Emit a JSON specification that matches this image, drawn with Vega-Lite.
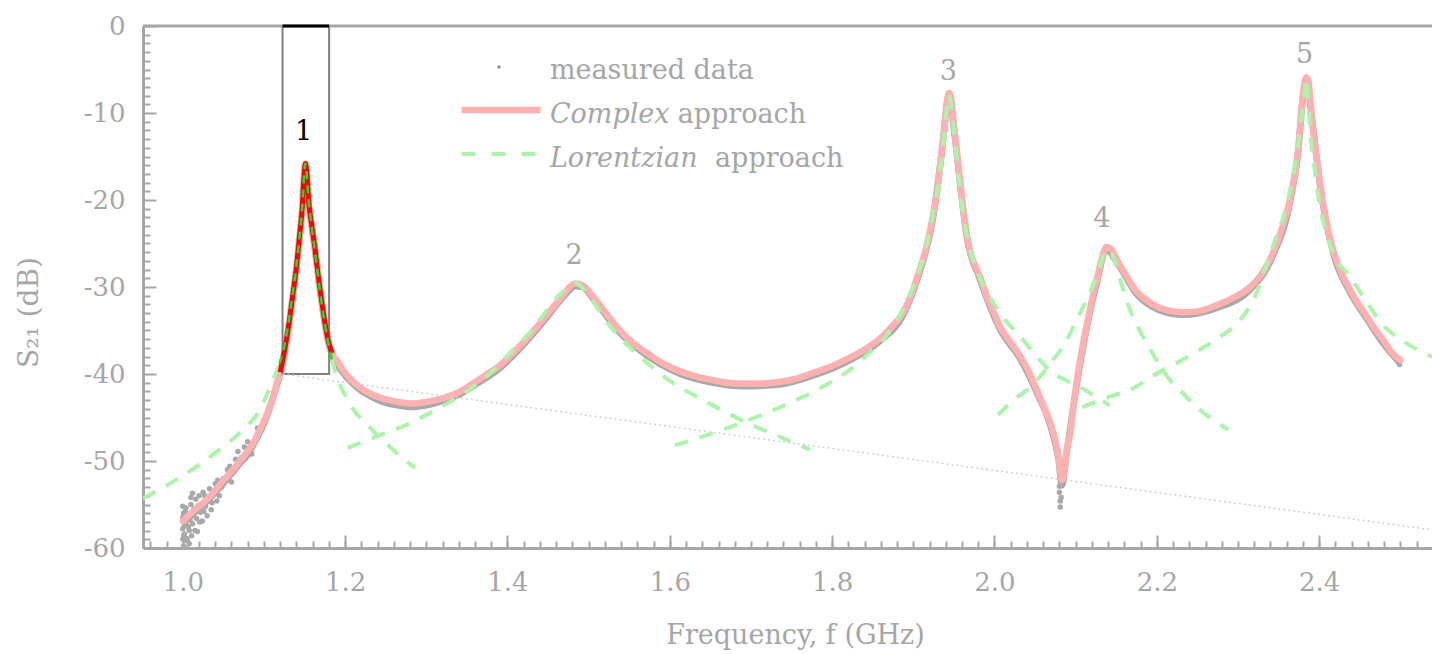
{
  "$schema": "https://vega.github.io/schema/vega-lite/v6.json",
  "width": 1289,
  "height": 522,
  "autosize": {"type": "none"},
  "padding": {"left": 143, "top": 26, "right": 0, "bottom": 106},
  "background": "white",
  "config": {"view": {"stroke": null}, "font": "DejaVu Serif"},
  "datasets": {
    "one": [{}],
    "complex": [
      {"f": 1.000, "s": -56.9}, {"f": 1.015, "s": -55.6}, {"f": 1.033, "s": -54.1}, {"f": 1.045, "s": -52.8},
      {"f": 1.058, "s": -51.4}, {"f": 1.068, "s": -50.3}, {"f": 1.078, "s": -49.1}, {"f": 1.087, "s": -47.9},
      {"f": 1.095, "s": -46.4}, {"f": 1.101, "s": -45.2}, {"f": 1.107, "s": -43.8}, {"f": 1.112, "s": -42.4},
      {"f": 1.116, "s": -41.0}, {"f": 1.120, "s": -39.8}, {"f": 1.126, "s": -37.0}, {"f": 1.132, "s": -33.4},
      {"f": 1.136, "s": -30.6}, {"f": 1.140, "s": -27.7}, {"f": 1.144, "s": -24.0}, {"f": 1.147, "s": -21.1},
      {"f": 1.149, "s": -17.8}, {"f": 1.151, "s": -15.8}, {"f": 1.153, "s": -17.0}, {"f": 1.155, "s": -20.0},
      {"f": 1.159, "s": -23.0}, {"f": 1.163, "s": -25.7}, {"f": 1.167, "s": -28.8}, {"f": 1.171, "s": -31.5},
      {"f": 1.175, "s": -34.0}, {"f": 1.179, "s": -36.1}, {"f": 1.184, "s": -37.6}, {"f": 1.191, "s": -38.6},
      {"f": 1.197, "s": -39.5}, {"f": 1.207, "s": -40.6}, {"f": 1.218, "s": -41.5}, {"f": 1.232, "s": -42.3},
      {"f": 1.246, "s": -42.8}, {"f": 1.265, "s": -43.2}, {"f": 1.283, "s": -43.4}, {"f": 1.300, "s": -43.2},
      {"f": 1.320, "s": -42.8}, {"f": 1.340, "s": -42.1}, {"f": 1.361, "s": -40.9}, {"f": 1.375, "s": -40.0},
      {"f": 1.387, "s": -39.3}, {"f": 1.400, "s": -38.2}, {"f": 1.414, "s": -36.9}, {"f": 1.428, "s": -35.5},
      {"f": 1.445, "s": -33.6}, {"f": 1.461, "s": -31.8}, {"f": 1.472, "s": -30.5}, {"f": 1.483, "s": -29.6},
      {"f": 1.492, "s": -29.8}, {"f": 1.501, "s": -30.6}, {"f": 1.510, "s": -31.6}, {"f": 1.522, "s": -33.1},
      {"f": 1.535, "s": -34.6}, {"f": 1.553, "s": -36.3}, {"f": 1.572, "s": -37.6}, {"f": 1.592, "s": -38.8},
      {"f": 1.613, "s": -39.7}, {"f": 1.633, "s": -40.3}, {"f": 1.653, "s": -40.7}, {"f": 1.672, "s": -41.0},
      {"f": 1.690, "s": -41.1}, {"f": 1.713, "s": -41.1}, {"f": 1.736, "s": -40.9}, {"f": 1.757, "s": -40.5},
      {"f": 1.776, "s": -39.9}, {"f": 1.797, "s": -39.2}, {"f": 1.818, "s": -38.3}, {"f": 1.838, "s": -37.3},
      {"f": 1.859, "s": -35.9}, {"f": 1.875, "s": -34.4}, {"f": 1.887, "s": -33.0}, {"f": 1.897, "s": -31.0},
      {"f": 1.905, "s": -28.8}, {"f": 1.915, "s": -25.8}, {"f": 1.924, "s": -21.9}, {"f": 1.930, "s": -18.5},
      {"f": 1.935, "s": -14.3}, {"f": 1.939, "s": -11.0}, {"f": 1.942, "s": -8.5}, {"f": 1.944, "s": -7.7},
      {"f": 1.946, "s": -8.0}, {"f": 1.948, "s": -9.5}, {"f": 1.951, "s": -12.3}, {"f": 1.955, "s": -15.5},
      {"f": 1.958, "s": -18.1}, {"f": 1.962, "s": -21.5}, {"f": 1.966, "s": -24.0}, {"f": 1.970, "s": -25.9},
      {"f": 1.976, "s": -27.5}, {"f": 1.982, "s": -28.8}, {"f": 1.990, "s": -30.9}, {"f": 1.999, "s": -32.9},
      {"f": 2.007, "s": -34.6}, {"f": 2.020, "s": -36.4}, {"f": 2.032, "s": -38.0}, {"f": 2.042, "s": -39.7},
      {"f": 2.052, "s": -41.8}, {"f": 2.061, "s": -43.8}, {"f": 2.069, "s": -45.7}, {"f": 2.075, "s": -47.6},
      {"f": 2.079, "s": -49.5}, {"f": 2.083, "s": -52.2}, {"f": 2.087, "s": -50.3}, {"f": 2.089, "s": -48.7},
      {"f": 2.093, "s": -47.0}, {"f": 2.097, "s": -44.0}, {"f": 2.101, "s": -41.1}, {"f": 2.107, "s": -37.6},
      {"f": 2.114, "s": -34.2}, {"f": 2.120, "s": -31.5}, {"f": 2.126, "s": -29.2}, {"f": 2.132, "s": -26.8},
      {"f": 2.138, "s": -25.4}, {"f": 2.144, "s": -25.7}, {"f": 2.151, "s": -26.9}, {"f": 2.163, "s": -28.8},
      {"f": 2.175, "s": -30.5}, {"f": 2.187, "s": -31.5}, {"f": 2.204, "s": -32.4}, {"f": 2.220, "s": -32.8},
      {"f": 2.232, "s": -32.9}, {"f": 2.250, "s": -32.8}, {"f": 2.274, "s": -32.1}, {"f": 2.295, "s": -31.2},
      {"f": 2.315, "s": -30.0}, {"f": 2.330, "s": -28.4}, {"f": 2.343, "s": -26.1}, {"f": 2.355, "s": -23.0},
      {"f": 2.364, "s": -20.0}, {"f": 2.370, "s": -17.0}, {"f": 2.374, "s": -14.3}, {"f": 2.377, "s": -11.0},
      {"f": 2.380, "s": -7.9}, {"f": 2.384, "s": -5.9}, {"f": 2.387, "s": -6.5}, {"f": 2.390, "s": -9.5},
      {"f": 2.393, "s": -12.3}, {"f": 2.397, "s": -15.2}, {"f": 2.401, "s": -18.0}, {"f": 2.408, "s": -22.0},
      {"f": 2.417, "s": -25.7}, {"f": 2.427, "s": -28.3}, {"f": 2.438, "s": -30.3}, {"f": 2.450, "s": -32.2},
      {"f": 2.459, "s": -33.4}, {"f": 2.467, "s": -34.6}, {"f": 2.479, "s": -36.1}, {"f": 2.490, "s": -37.6},
      {"f": 2.500, "s": -38.4}
    ],
    "measured": [
      {"f": 1.005, "s": -56.8}, {"f": 1.015, "s": -55.9}, {"f": 1.030, "s": -54.6}, {"f": 1.045, "s": -53.1},
      {"f": 1.058, "s": -51.7}, {"f": 1.070, "s": -50.3}, {"f": 1.080, "s": -49.3}, {"f": 1.090, "s": -47.6},
      {"f": 1.098, "s": -46.1}, {"f": 1.105, "s": -44.5}, {"f": 1.111, "s": -42.8}, {"f": 1.116, "s": -41.3},
      {"f": 1.120, "s": -40.0}, {"f": 1.126, "s": -37.2}, {"f": 1.132, "s": -33.6}, {"f": 1.140, "s": -27.9},
      {"f": 1.147, "s": -21.3}, {"f": 1.151, "s": -16.0}, {"f": 1.155, "s": -20.2}, {"f": 1.163, "s": -25.9},
      {"f": 1.171, "s": -31.7}, {"f": 1.179, "s": -36.3}, {"f": 1.186, "s": -38.2}, {"f": 1.197, "s": -39.8},
      {"f": 1.207, "s": -40.9}, {"f": 1.218, "s": -41.8}, {"f": 1.232, "s": -42.6}, {"f": 1.246, "s": -43.2},
      {"f": 1.265, "s": -43.6}, {"f": 1.283, "s": -43.8}, {"f": 1.300, "s": -43.6}, {"f": 1.320, "s": -43.1},
      {"f": 1.340, "s": -42.4}, {"f": 1.361, "s": -41.2}, {"f": 1.387, "s": -39.6}, {"f": 1.414, "s": -37.2},
      {"f": 1.445, "s": -33.9}, {"f": 1.472, "s": -30.8}, {"f": 1.483, "s": -29.9}, {"f": 1.492, "s": -30.0},
      {"f": 1.510, "s": -31.9}, {"f": 1.535, "s": -34.9}, {"f": 1.572, "s": -37.9}, {"f": 1.613, "s": -40.0},
      {"f": 1.653, "s": -41.0}, {"f": 1.690, "s": -41.4}, {"f": 1.736, "s": -41.2}, {"f": 1.776, "s": -40.2},
      {"f": 1.818, "s": -38.6}, {"f": 1.859, "s": -36.2}, {"f": 1.887, "s": -33.3}, {"f": 1.905, "s": -29.1},
      {"f": 1.924, "s": -22.2}, {"f": 1.935, "s": -14.6}, {"f": 1.944, "s": -7.9}, {"f": 1.951, "s": -12.6},
      {"f": 1.958, "s": -18.4}, {"f": 1.966, "s": -24.3}, {"f": 1.982, "s": -29.1}, {"f": 2.007, "s": -34.9},
      {"f": 2.032, "s": -38.3}, {"f": 2.052, "s": -42.1}, {"f": 2.069, "s": -46.0}, {"f": 2.079, "s": -49.9},
      {"f": 2.083, "s": -52.8}, {"f": 2.089, "s": -49.0}, {"f": 2.101, "s": -41.4}, {"f": 2.114, "s": -34.5},
      {"f": 2.126, "s": -29.5}, {"f": 2.138, "s": -25.7}, {"f": 2.151, "s": -27.2}, {"f": 2.175, "s": -30.8},
      {"f": 2.204, "s": -32.7}, {"f": 2.232, "s": -33.2}, {"f": 2.274, "s": -32.4}, {"f": 2.315, "s": -30.3},
      {"f": 2.343, "s": -26.4}, {"f": 2.364, "s": -20.3}, {"f": 2.374, "s": -14.6}, {"f": 2.380, "s": -8.2},
      {"f": 2.384, "s": -6.1}, {"f": 2.390, "s": -9.8}, {"f": 2.401, "s": -18.3}, {"f": 2.417, "s": -26.0},
      {"f": 2.438, "s": -30.6}, {"f": 2.459, "s": -33.7}, {"f": 2.479, "s": -36.5}, {"f": 2.500, "s": -38.8}
    ],
    "scatter": [
      {"f": 1.000, "s": -55.2}, {"f": 1.000, "s": -56.5}, {"f": 1.000, "s": -57.8}, {"f": 1.000, "s": -59.0},
      {"f": 1.001, "s": -59.8}, {"f": 1.002, "s": -58.4}, {"f": 1.003, "s": -57.0}, {"f": 1.003, "s": -55.8},
      {"f": 1.004, "s": -60.0}, {"f": 1.005, "s": -58.9}, {"f": 1.006, "s": -56.2}, {"f": 1.007, "s": -57.6},
      {"f": 1.008, "s": -59.5}, {"f": 1.010, "s": -55.0}, {"f": 1.012, "s": -57.2}, {"f": 1.012, "s": -53.7},
      {"f": 1.015, "s": -58.0}, {"f": 1.017, "s": -56.6}, {"f": 1.018, "s": -58.1}, {"f": 1.020, "s": -54.0},
      {"f": 1.022, "s": -55.9}, {"f": 1.025, "s": -53.6}, {"f": 1.028, "s": -55.2}, {"f": 1.030, "s": -56.3},
      {"f": 1.033, "s": -53.2}, {"f": 1.036, "s": -54.8}, {"f": 1.040, "s": -52.6}, {"f": 1.045, "s": -54.0},
      {"f": 1.050, "s": -52.0}, {"f": 1.055, "s": -51.0}, {"f": 1.060, "s": -52.4}, {"f": 1.065, "s": -49.8},
      {"f": 1.072, "s": -49.6}, {"f": 1.080, "s": -47.8}, {"f": 1.085, "s": -49.2}, {"f": 1.092, "s": -46.2},
      {"f": 1.001, "s": -56.0}, {"f": 1.002, "s": -57.3}, {"f": 1.004, "s": -55.4}, {"f": 1.006, "s": -59.2},
      {"f": 1.009, "s": -56.8}, {"f": 1.011, "s": -58.6}, {"f": 1.014, "s": -55.5}, {"f": 1.019, "s": -55.1},
      {"f": 1.024, "s": -56.9}, {"f": 1.027, "s": -54.0}, {"f": 1.038, "s": -53.5}, {"f": 1.043, "s": -52.2},
      {"f": 1.048, "s": -53.0}, {"f": 1.058, "s": -50.6}, {"f": 1.068, "s": -48.9}, {"f": 1.076, "s": -48.4},
      {"f": 1.001, "s": -58.6}, {"f": 1.003, "s": -59.1}, {"f": 1.005, "s": -57.4}, {"f": 1.008, "s": -58.0},
      {"f": 1.010, "s": -54.2}, {"f": 1.013, "s": -56.1}, {"f": 1.016, "s": -54.4}, {"f": 1.021, "s": -57.0},
      {"f": 1.026, "s": -55.8}, {"f": 1.031, "s": -54.1}, {"f": 1.035, "s": -55.6}, {"f": 1.042, "s": -54.6},
      {"f": 2.080, "s": -53.6}, {"f": 2.081, "s": -54.6}, {"f": 2.081, "s": -55.3}, {"f": 2.082, "s": -54.2},
      {"f": 2.080, "s": -52.9}, {"f": 2.499, "s": -38.9}
    ],
    "lorentz": [
      {"peak": 1, "f": 0.951, "s": -54.3}, {"peak": 1, "f": 0.984, "s": -52.6}, {"peak": 1, "f": 1.016, "s": -50.7},
      {"peak": 1, "f": 1.045, "s": -48.7}, {"peak": 1, "f": 1.074, "s": -46.4}, {"peak": 1, "f": 1.095, "s": -44.1},
      {"peak": 1, "f": 1.111, "s": -40.7}, {"peak": 1, "f": 1.119, "s": -38.8}, {"peak": 1, "f": 1.126, "s": -36.4},
      {"peak": 1, "f": 1.132, "s": -33.0}, {"peak": 1, "f": 1.140, "s": -27.5}, {"peak": 1, "f": 1.147, "s": -21.0},
      {"peak": 1, "f": 1.151, "s": -15.8}, {"peak": 1, "f": 1.155, "s": -20.0}, {"peak": 1, "f": 1.163, "s": -26.0},
      {"peak": 1, "f": 1.171, "s": -31.8}, {"peak": 1, "f": 1.179, "s": -36.3}, {"peak": 1, "f": 1.185, "s": -38.8},
      {"peak": 1, "f": 1.205, "s": -43.3}, {"peak": 1, "f": 1.230, "s": -46.1}, {"peak": 1, "f": 1.259, "s": -48.7},
      {"peak": 1, "f": 1.286, "s": -50.8},
      {"peak": 2, "f": 1.203, "s": -48.5}, {"peak": 2, "f": 1.238, "s": -47.2}, {"peak": 2, "f": 1.279, "s": -45.7},
      {"peak": 2, "f": 1.312, "s": -44.1}, {"peak": 2, "f": 1.353, "s": -41.8}, {"peak": 2, "f": 1.380, "s": -39.8},
      {"peak": 2, "f": 1.407, "s": -37.2}, {"peak": 2, "f": 1.430, "s": -35.0}, {"peak": 2, "f": 1.449, "s": -32.6},
      {"peak": 2, "f": 1.467, "s": -30.6}, {"peak": 2, "f": 1.483, "s": -29.5}, {"peak": 2, "f": 1.500, "s": -31.0},
      {"peak": 2, "f": 1.523, "s": -34.1}, {"peak": 2, "f": 1.547, "s": -36.6}, {"peak": 2, "f": 1.572, "s": -38.7},
      {"peak": 2, "f": 1.600, "s": -40.8}, {"peak": 2, "f": 1.633, "s": -42.6}, {"peak": 2, "f": 1.665, "s": -44.2},
      {"peak": 2, "f": 1.695, "s": -45.6}, {"peak": 2, "f": 1.730, "s": -47.0}, {"peak": 2, "f": 1.773, "s": -48.7},
      {"peak": 3, "f": 1.606, "s": -48.2}, {"peak": 3, "f": 1.640, "s": -47.2}, {"peak": 3, "f": 1.674, "s": -46.1},
      {"peak": 3, "f": 1.705, "s": -45.0}, {"peak": 3, "f": 1.736, "s": -43.8}, {"peak": 3, "f": 1.767, "s": -42.5},
      {"peak": 3, "f": 1.797, "s": -41.0}, {"peak": 3, "f": 1.825, "s": -39.3}, {"peak": 3, "f": 1.850, "s": -37.2},
      {"peak": 3, "f": 1.868, "s": -35.5}, {"peak": 3, "f": 1.880, "s": -33.8}, {"peak": 3, "f": 1.895, "s": -31.0},
      {"peak": 3, "f": 1.905, "s": -28.6}, {"peak": 3, "f": 1.915, "s": -25.6}, {"peak": 3, "f": 1.924, "s": -21.6},
      {"peak": 3, "f": 1.932, "s": -17.5}, {"peak": 3, "f": 1.938, "s": -12.5}, {"peak": 3, "f": 1.942, "s": -9.0},
      {"peak": 3, "f": 1.944, "s": -7.9}, {"peak": 3, "f": 1.947, "s": -9.5}, {"peak": 3, "f": 1.951, "s": -13.0},
      {"peak": 3, "f": 1.956, "s": -17.5}, {"peak": 3, "f": 1.962, "s": -22.0}, {"peak": 3, "f": 1.968, "s": -25.0},
      {"peak": 3, "f": 1.974, "s": -26.9}, {"peak": 3, "f": 1.986, "s": -29.8}, {"peak": 3, "f": 1.999, "s": -31.9},
      {"peak": 3, "f": 2.015, "s": -34.0}, {"peak": 3, "f": 2.032, "s": -35.7}, {"peak": 3, "f": 2.052, "s": -38.0},
      {"peak": 3, "f": 2.072, "s": -39.9}, {"peak": 3, "f": 2.090, "s": -40.8}, {"peak": 3, "f": 2.105, "s": -41.5},
      {"peak": 3, "f": 2.125, "s": -42.6}, {"peak": 3, "f": 2.142, "s": -43.6},
      {"peak": 4, "f": 2.004, "s": -44.7}, {"peak": 4, "f": 2.025, "s": -42.9}, {"peak": 4, "f": 2.040, "s": -41.8},
      {"peak": 4, "f": 2.057, "s": -40.2}, {"peak": 4, "f": 2.072, "s": -38.4}, {"peak": 4, "f": 2.088, "s": -36.3},
      {"peak": 4, "f": 2.101, "s": -33.8}, {"peak": 4, "f": 2.112, "s": -31.8}, {"peak": 4, "f": 2.122, "s": -29.6},
      {"peak": 4, "f": 2.130, "s": -27.5}, {"peak": 4, "f": 2.138, "s": -25.7}, {"peak": 4, "f": 2.146, "s": -26.5},
      {"peak": 4, "f": 2.156, "s": -29.5}, {"peak": 4, "f": 2.167, "s": -32.6}, {"peak": 4, "f": 2.180, "s": -35.2},
      {"peak": 4, "f": 2.192, "s": -37.2}, {"peak": 4, "f": 2.213, "s": -40.3}, {"peak": 4, "f": 2.233, "s": -42.3},
      {"peak": 4, "f": 2.253, "s": -44.1}, {"peak": 4, "f": 2.270, "s": -45.3}, {"peak": 4, "f": 2.288, "s": -46.4},
      {"peak": 5, "f": 2.108, "s": -43.8}, {"peak": 5, "f": 2.142, "s": -42.6}, {"peak": 5, "f": 2.170, "s": -41.7},
      {"peak": 5, "f": 2.195, "s": -40.2}, {"peak": 5, "f": 2.225, "s": -38.7}, {"peak": 5, "f": 2.253, "s": -37.2},
      {"peak": 5, "f": 2.275, "s": -35.9}, {"peak": 5, "f": 2.294, "s": -34.6}, {"peak": 5, "f": 2.309, "s": -33.0},
      {"peak": 5, "f": 2.319, "s": -31.5}, {"peak": 5, "f": 2.336, "s": -27.2}, {"peak": 5, "f": 2.346, "s": -24.5},
      {"peak": 5, "f": 2.356, "s": -21.9}, {"peak": 5, "f": 2.366, "s": -18.0}, {"peak": 5, "f": 2.373, "s": -14.3},
      {"peak": 5, "f": 2.379, "s": -10.0}, {"peak": 5, "f": 2.383, "s": -7.0}, {"peak": 5, "f": 2.384, "s": -6.0},
      {"peak": 5, "f": 2.386, "s": -8.0}, {"peak": 5, "f": 2.389, "s": -12.3}, {"peak": 5, "f": 2.395, "s": -16.8},
      {"peak": 5, "f": 2.401, "s": -20.8}, {"peak": 5, "f": 2.409, "s": -23.8}, {"peak": 5, "f": 2.417, "s": -26.1},
      {"peak": 5, "f": 2.438, "s": -28.8}, {"peak": 5, "f": 2.459, "s": -31.8}, {"peak": 5, "f": 2.479, "s": -34.4},
      {"peak": 5, "f": 2.500, "s": -36.0}, {"peak": 5, "f": 2.521, "s": -37.2}, {"peak": 5, "f": 2.539, "s": -38.0}
    ],
    "peaklabels": [
      {"label": "1", "f": 1.1488, "s": -13.1},
      {"label": "2", "f": 1.482, "s": -27.4},
      {"label": "3", "f": 1.9432, "s": -6.2},
      {"label": "4", "f": 2.1322, "s": -23.1},
      {"label": "5", "f": 2.382, "s": -4.2}
    ]
  },
  "resolve": {"axis": {"x": "independent", "y": "independent"}},
  "layer": [
    {
      "data": {"name": "measured"},
      "mark": {"type": "line", "color": "#a9a9a9", "strokeWidth": 6.5, "clip": true, "strokeJoin": "round", "interpolate": "monotone"},
      "encoding": {
        "x": {"field": "f", "type": "quantitative", "scale": {"domain": [0.951, 2.539], "nice": false, "zero": false},
          "axis": {"orient": "bottom", "values": [0.96,0.98,1.0,1.02,1.04,1.06,1.08,1.1,1.12,1.14,1.16,1.18,1.2,1.22,1.24,1.26,1.28,1.3,1.32,1.34,1.36,1.38,1.4,1.42,1.44,1.46,1.48,1.5,1.52,1.54,1.56,1.58,1.6,1.62,1.64,1.66,1.68,1.7,1.72,1.74,1.76,1.78,1.8,1.82,1.84,1.86,1.88,1.9,1.92,1.94,1.96,1.98,2.0,2.02,2.04,2.06,2.08,2.1,2.12,2.14,2.16,2.18,2.2,2.22,2.24,2.26,2.28,2.3,2.32,2.34,2.36,2.38,2.4,2.42,2.44,2.46,2.48,2.5,2.52],
            "labels": false, "domain": false, "grid": false, "title": null, "tickSize": -7, "tickWidth": 2, "tickColor": "#a6a6a6"}},
        "y": {"field": "s", "type": "quantitative", "scale": {"domain": [-60, 0], "nice": false, "zero": false},
          "axis": {"orient": "left", "values": [-59,-58,-57,-56,-55,-54,-53,-52,-51,-49,-48,-47,-46,-45,-44,-43,-42,-41,-39,-38,-37,-36,-35,-34,-33,-32,-31,-29,-28,-27,-26,-25,-24,-23,-22,-21,-19,-18,-17,-16,-15,-14,-13,-12,-11,-9,-8,-7,-6,-5,-4,-3,-2,-1],
            "labels": false, "domain": false, "grid": false, "title": null, "tickSize": -7, "tickWidth": 2, "tickColor": "#a6a6a6"}}
      }
    },
    {
      "data": {"name": "scatter"},
      "mark": {"type": "circle", "color": "#a9a9a9", "size": 30, "opacity": 1, "clip": true},
      "encoding": {
        "x": {"field": "f", "type": "quantitative", "axis": null},
        "y": {"field": "s", "type": "quantitative", "axis": null}
      }
    },
    {
      "data": {"name": "complex"},
      "mark": {"type": "line", "color": "#ffb0b0", "strokeWidth": 6.5, "clip": true, "strokeJoin": "round", "strokeCap": "round", "interpolate": "monotone"},
      "encoding": {
        "x": {"field": "f", "type": "quantitative",
          "axis": {"orient": "bottom", "values": [1.0,1.2,1.4,1.6,1.8,2.0,2.2,2.4], "labelExpr": "format(datum.value, '.1f')",
            "grid": false, "domainColor": "#a6a6a6", "domainWidth": 3, "tickColor": "#a6a6a6", "tickWidth": 2, "tickSize": -13,
            "labelPadding": 34, "labelFont": "DejaVu Serif", "labelFontSize": 26, "labelColor": "#a6a6a6",
            "title": "Frequency, f (GHz)", "titleFont": "DejaVu Serif", "titleFontSize": 27, "titleFontWeight": "normal",
            "titleColor": "#a6a6a6", "titleBaseline": "alphabetic", "titleY": 95, "titleX": 652}},
        "y": {"field": "s", "type": "quantitative",
          "axis": {"orient": "left", "values": [-60,-50,-40,-30,-20,-10,0], "labelExpr": "'' + datum.value",
            "grid": false, "domainColor": "#a6a6a6", "domainWidth": 3, "tickColor": "#a6a6a6", "tickWidth": 2, "tickSize": -13,
            "labelPadding": 31, "labelFont": "DejaVu Serif", "labelFontSize": 26, "labelColor": "#a6a6a6", "labelBaseline": "middle",
            "title": "S₂₁ (dB)", "titleFont": "DejaVu Serif", "titleFontSize": 28, "titleFontWeight": "normal",
            "titleColor": "#a6a6a6", "titleBaseline": "alphabetic", "titleX": -106, "titleY": 286, "titleAngle": 270}}
      }
    },
    {
      "data": {"name": "lorentz"},
      "mark": {"type": "line", "color": "#aaf5aa", "strokeWidth": 4, "strokeDash": [14, 12], "clip": true, "interpolate": "monotone"},
      "encoding": {
        "x": {"field": "f", "type": "quantitative", "axis": null},
        "y": {"field": "s", "type": "quantitative", "axis": null},
        "detail": {"field": "peak", "type": "nominal"}
      }
    },
    {
      "data": {"name": "one"},
      "mark": {"type": "rect", "fill": "transparent", "stroke": "#808080", "strokeWidth": 2},
      "encoding": {
        "x": {"datum": 1.1229, "type": "quantitative", "axis": null},
        "x2": {"datum": 1.1803},
        "y": {"datum": 0, "type": "quantitative", "axis": null},
        "y2": {"datum": -40}
      }
    },
    {
      "data": {"name": "one"},
      "mark": {"type": "rule", "color": "#d0d0d0", "strokeWidth": 1.5, "strokeDash": [2, 3], "clip": true},
      "encoding": {
        "x": {"datum": 1.1229, "type": "quantitative", "axis": null},
        "x2": {"datum": 2.539},
        "y": {"datum": -40, "type": "quantitative", "axis": null},
        "y2": {"datum": -57.9}
      }
    },
    {
      "data": {"name": "complex"},
      "transform": [{"filter": "datum.f >= 1.119 && datum.f <= 1.185"}],
      "mark": {"type": "line", "color": "#ff0000", "strokeWidth": 5, "strokeJoin": "round", "interpolate": "monotone"},
      "encoding": {
        "x": {"field": "f", "type": "quantitative", "axis": null},
        "y": {"field": "s", "type": "quantitative", "axis": null}
      }
    },
    {
      "data": {"name": "lorentz"},
      "transform": [{"filter": "datum.peak == 1 && datum.f >= 1.119 && datum.f <= 1.185"}],
      "mark": {"type": "line", "color": "#22dd22", "strokeWidth": 2.5, "strokeDash": [8, 6], "interpolate": "monotone"},
      "encoding": {
        "x": {"field": "f", "type": "quantitative", "axis": null},
        "y": {"field": "s", "type": "quantitative", "axis": null}
      }
    },
    {
      "data": {"name": "one"},
      "mark": {"type": "rule", "color": "#a6a6a6", "strokeWidth": 3},
      "encoding": {"y": {"datum": 0, "type": "quantitative", "axis": null}}
    },
    {
      "data": {"name": "one"},
      "mark": {"type": "rule", "color": "#000000", "strokeWidth": 3},
      "encoding": {
        "x": {"datum": 1.1229, "type": "quantitative", "axis": null},
        "x2": {"datum": 1.1803},
        "y": {"datum": 0, "type": "quantitative", "axis": null}
      }
    },
    {
      "data": {"name": "peaklabels"},
      "mark": {"type": "text", "font": "DejaVu Serif", "fontSize": 27, "align": "center", "baseline": "alphabetic"},
      "encoding": {
        "x": {"field": "f", "type": "quantitative", "axis": null},
        "y": {"field": "s", "type": "quantitative", "axis": null},
        "text": {"field": "label", "type": "nominal"},
        "color": {"condition": {"test": "datum.label == '1'", "value": "#000000"}, "value": "#a6a6a6"}
      }
    },
    {
      "data": {"name": "one"},
      "mark": {"type": "circle", "color": "#8c8c8c", "size": 12, "opacity": 1},
      "encoding": {
        "x": {"datum": 1.3895, "type": "quantitative", "axis": null},
        "y": {"datum": -4.7, "type": "quantitative", "axis": null}
      }
    },
    {
      "data": {"name": "one"},
      "mark": {"type": "rule", "color": "#ffb0b0", "strokeWidth": 6.5},
      "encoding": {
        "x": {"datum": 1.3435, "type": "quantitative", "axis": null},
        "x2": {"datum": 1.4409},
        "y": {"datum": -9.66, "type": "quantitative", "axis": null}
      }
    },
    {
      "data": {"name": "one"},
      "mark": {"type": "rule", "color": "#aaf5aa", "strokeWidth": 4, "strokeDash": [14, 16]},
      "encoding": {
        "x": {"datum": 1.3435, "type": "quantitative", "axis": null},
        "x2": {"datum": 1.4359},
        "y": {"datum": -14.7, "type": "quantitative", "axis": null}
      }
    },
    {
      "data": {"name": "one"},
      "mark": {"type": "text", "text": "measured data", "font": "DejaVu Serif", "fontSize": 27, "align": "left", "baseline": "alphabetic", "color": "#a6a6a6"},
      "encoding": {
        "x": {"datum": 1.4523, "type": "quantitative", "axis": null},
        "y": {"datum": -6.1, "type": "quantitative", "axis": null}
      }
    },
    {
      "data": {"name": "one"},
      "mark": {"type": "text", "text": "Complex", "font": "DejaVu Serif", "fontStyle": "italic", "fontSize": 27, "align": "left", "baseline": "alphabetic", "color": "#a6a6a6"},
      "encoding": {
        "x": {"datum": 1.4523, "type": "quantitative", "axis": null},
        "y": {"datum": -11.1, "type": "quantitative", "axis": null}
      }
    },
    {
      "data": {"name": "one"},
      "mark": {"type": "text", "text": "approach", "font": "DejaVu Serif", "fontSize": 27, "align": "left", "baseline": "alphabetic", "color": "#a6a6a6"},
      "encoding": {
        "x": {"datum": 1.6097, "type": "quantitative", "axis": null},
        "y": {"datum": -11.1, "type": "quantitative", "axis": null}
      }
    },
    {
      "data": {"name": "one"},
      "mark": {"type": "text", "text": "Lorentzian", "font": "DejaVu Serif", "fontStyle": "italic", "fontSize": 27, "align": "left", "baseline": "alphabetic", "color": "#a6a6a6"},
      "encoding": {
        "x": {"datum": 1.4523, "type": "quantitative", "axis": null},
        "y": {"datum": -16.17, "type": "quantitative", "axis": null}
      }
    },
    {
      "data": {"name": "one"},
      "mark": {"type": "text", "text": "approach", "font": "DejaVu Serif", "fontSize": 27, "align": "left", "baseline": "alphabetic", "color": "#a6a6a6"},
      "encoding": {
        "x": {"datum": 1.6557, "type": "quantitative", "axis": null},
        "y": {"datum": -16.17, "type": "quantitative", "axis": null}
      }
    }
  ]
}
